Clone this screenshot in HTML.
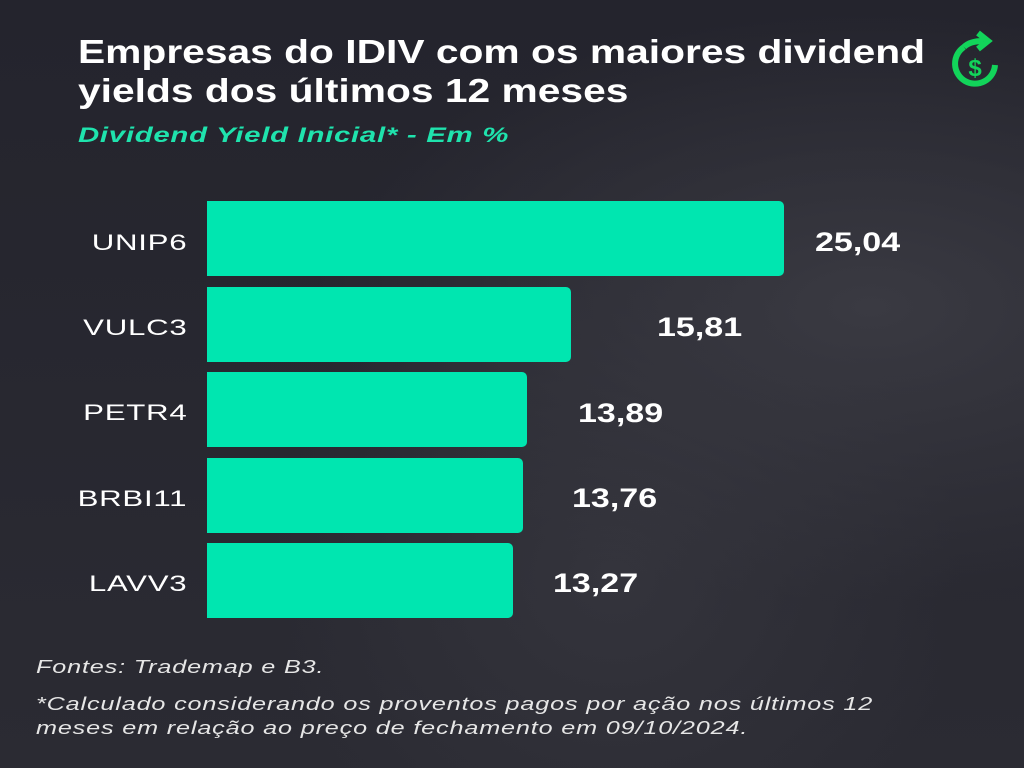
<!DOCTYPE html>
<html><head><meta charset="utf-8"><style>
body{margin:0;width:1024px;height:768px;overflow:hidden;background:#272731;font-family:"Liberation Sans",sans-serif;position:relative}
.bg{position:absolute;inset:0;background:radial-gradient(ellipse at 85% 40%,#3a3a42 0%,rgba(0,0,0,0) 45%),radial-gradient(ellipse at 60% 75%,#34343c 0%,rgba(0,0,0,0) 40%),linear-gradient(#24242d,#2b2b33)}
.t{position:absolute;color:#fff;white-space:nowrap;transform-origin:0 0}
h1{position:absolute;left:78px;top:32px;margin:0;font-size:33px;line-height:39px;color:#fff;font-weight:bold;white-space:nowrap;transform:scaleX(1.235);transform-origin:0 0}
.sub{left:78px;top:124px;font-size:21px;font-style:italic;font-weight:bold;color:#1fe3ad;letter-spacing:0.5px;transform:scaleX(1.40)}
.bar{position:absolute;left:207px;height:75px;background:#00e6b0;border-radius:0 5px 5px 0}
.lab{position:absolute;right:837px;font-size:22px;color:#fff;text-align:right;letter-spacing:0.5px;transform:scaleX(1.42);transform-origin:100% 0;white-space:nowrap}
.val{position:absolute;font-size:27px;font-weight:bold;color:#fff;transform:scaleX(1.26);transform-origin:0 0}
.f{position:absolute;left:36px;font-size:18px;font-style:italic;color:#e6e6e6;letter-spacing:0.6px;line-height:24px;white-space:nowrap;transform:scaleX(1.40);transform-origin:0 0}
</style></head><body>
<div class="bg"></div>
<h1>Empresas do IDIV com os maiores dividend<br>yields dos últimos 12 meses</h1>
<div class="t sub">Dividend Yield Inicial* - Em %</div>
<svg style="position:absolute;left:945px;top:30px" width="60" height="60" viewBox="0 0 60 60">
<path d="M19 17 A20 20 0 1 0 50 35" fill="none" stroke="#12d45a" stroke-width="6"/>
<path d="M19 17 Q25 11 38 11" stroke="#12d45a" stroke-width="6" fill="none"/>
<path d="M33 3 L43 11 L33 19" fill="none" stroke="#12d45a" stroke-width="6"/>
<text x="30" y="46" font-family="Liberation Sans" font-weight="bold" font-size="24" fill="#12d45a" text-anchor="middle">$</text>
</svg>
<div class="bar" style="top:201px;width:577px"></div>
<div class="bar" style="top:287px;width:364px"></div>
<div class="bar" style="top:372px;width:320px"></div>
<div class="bar" style="top:458px;width:316px"></div>
<div class="bar" style="top:543px;width:306px"></div>
<div class="lab" style="top:230px">UNIP6</div>
<div class="lab" style="top:315px">VULC3</div>
<div class="lab" style="top:400px">PETR4</div>
<div class="lab" style="top:486px">BRBI11</div>
<div class="lab" style="top:571px">LAVV3</div>
<div class="val" style="left:815px;top:227px">25,04</div>
<div class="val" style="left:657px;top:312px">15,81</div>
<div class="val" style="left:578px;top:398px">13,89</div>
<div class="val" style="left:572px;top:483px">13,76</div>
<div class="val" style="left:553px;top:568px">13,27</div>
<div class="f" style="top:655px">Fontes: Trademap e B3.</div>
<div class="f" style="top:692px">*Calculado considerando os proventos pagos por ação nos últimos 12<br>meses em relação ao preço de fechamento em 09/10/2024.</div>
</body></html>
